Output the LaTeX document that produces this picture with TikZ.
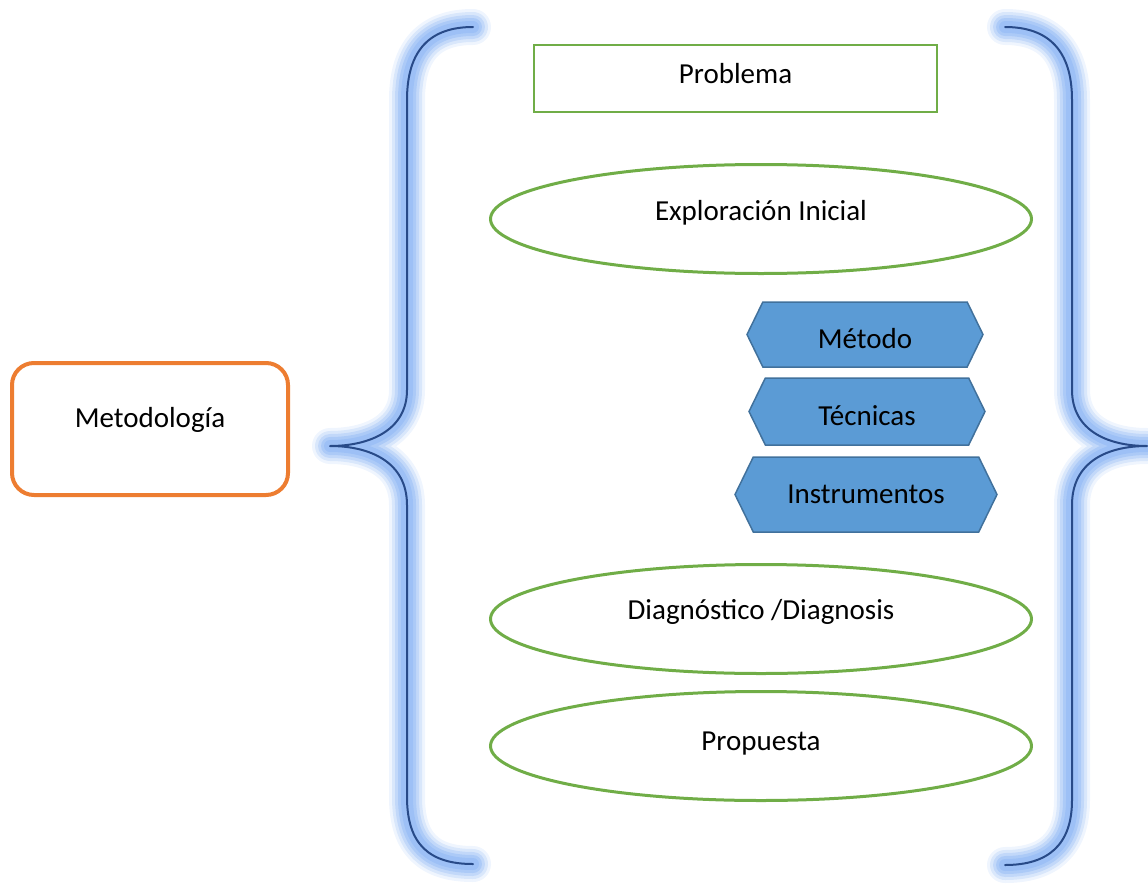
\documentclass[tikz,border=0pt]{standalone}
\usepackage{fontspec}
\setmainfont{Carlito}
\usetikzlibrary{shapes.geometric,shapes.symbols}
\definecolor{bracedark}{RGB}{40,74,136}
\definecolor{braceglow}{RGB}{150,188,245}
\definecolor{boxgreen}{RGB}{112,173,71}
\definecolor{boxorange}{RGB}{237,125,49}
\definecolor{hexfill}{RGB}{91,155,213}
\definecolor{hexline}{RGB}{65,113,156}

\begin{document}
\begin{tikzpicture}[x=1pt,y=1pt,
  every node/.style={font=\fontsize{29}{35}\selectfont, inner sep=0pt},
  greenbox/.style={draw=boxgreen, line width=2pt, minimum width=403pt, minimum height=67pt},
  greenoval/.style={ellipse, draw=boxgreen, line width=3pt, minimum width=541pt, minimum height=109pt},
  hexa/.style={signal, signal to=west and east, signal pointer angle=128, fill=hexfill, draw=hexline, line width=1.5pt},
  bracestroke/.style={line cap=round, line join=round}]
\useasboundingbox (0,0) rectangle (1148,-886);
\foreach \w/\o/\c in {36/0.15/braceglow,30/0.25/braceglow,24/0.35/braceglow,18/0.5/braceglow,12/0.7/braceglow,2/1/bracedark}
{
\draw [bracestroke, draw=\c, line width=\w pt, opacity=\o]
  (473,-27) .. controls (430,-27) and (407,-50) .. (407,-100) -- (407,-390)
  .. controls (407,-430) and (370,-446) .. (330,-446)
  .. controls (370,-446) and (407,-462) .. (407,-505) -- (407,-797)
  .. controls (407,-845) and (430,-864) .. (473,-864)
  (1005,-27) .. controls (1048,-27) and (1072,-50) .. (1072,-100) -- (1072,-390)
  .. controls (1072,-430) and (1107,-446) .. (1147,-446)
  .. controls (1107,-446) and (1072,-462) .. (1072,-505) -- (1072,-800)
  .. controls (1072,-845) and (1048,-865) .. (1005,-865);
}
\node [draw=boxorange, line width=4pt, rounded corners=22pt, minimum width=276pt, minimum height=132pt] (metodologia) at (150,-429) {\raisebox{9pt}[\height][\depth]{Metodología}};
\node [greenbox] (problema) at (735.5,-78.5) {\raisebox{5pt}[\height][\depth]{Problema}};
\node [greenoval] (exploracion) at (761,-219) {\raisebox{6pt}[\height][\depth]{Exploración Inicial}};
\node [hexa, minimum width=236pt, minimum height=65pt] (metodo) at (865,-334.5) {\raisebox{-4pt}[\height][\depth]{Método}};
\node [hexa, minimum width=236pt, minimum height=67pt] (tecnicas) at (867,-411.5) {\raisebox{-4pt}[\height][\depth]{Técnicas}};
\node [hexa, minimum width=262pt, minimum height=75pt] (instrumentos) at (866,-494.5) {Instrumentos};
\node [greenoval] (diagnostico) at (761,-619) {\raisebox{7pt}[\height][\depth]{Diagnóstico /Diagnosis}};
\node [greenoval] (propuesta) at (761,-746) {\raisebox{2pt}[\height][\depth]{Propuesta}};
\end{tikzpicture}
\end{document}
